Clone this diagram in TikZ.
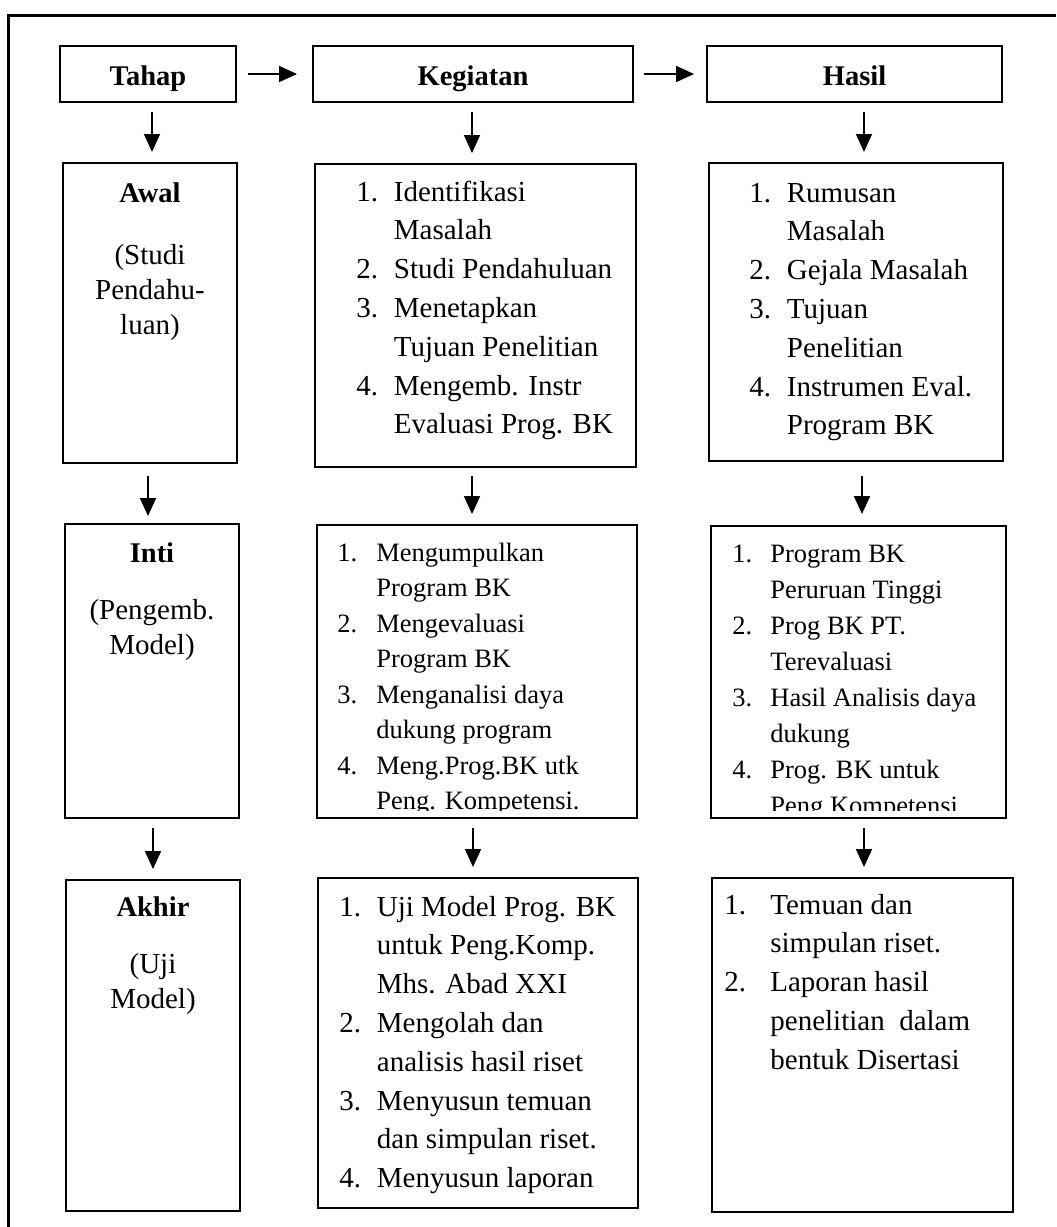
\documentclass[tikz,border=0pt]{standalone}
\usepackage{fontspec}
\setmainfont{Liberation Serif}
\usetikzlibrary{calc,arrows.meta}
\newcommand{\butir}[2][18.75pt]{\makebox[#1][l]{#2}}
\newcommand{\lanjut}[1][18.75pt]{\hspace*{#1}}
\newcommand{\daftar}[1]{\begin{tabular}[t]{@{}l@{}}#1\end{tabular}}
\newcommand{\tengah}[1]{\begin{tabular}[t]{@{}c@{}}#1\end{tabular}}
\tikzset{
  kotak/.style={draw, line width=1pt, inner sep=0pt},
  judul/.style={font=\fontsize{14.25}{17}\selectfont\bfseries},
  kepala/.style={kotak, judul, minimum height=28pt, text height=11pt, text depth=0pt},
  isi/.style={inner sep=0pt, anchor=base west, font=\fontsize{14.5}{19.4}\selectfont},
  isikecil/.style={inner sep=0pt, anchor=base west, font=\fontsize{13.25}{17.75}\selectfont},
  ket/.style={inner sep=0pt, anchor=base, font=\fontsize{14.5}{17.5}\selectfont},
  panah/.style={-{Triangle[length=9pt,width=8pt]}, line width=0.9pt},
}
\begin{document}
\begin{tikzpicture}[x=0.5pt, y=-0.5pt]
\useasboundingbox (0,0) rectangle (1056,1227);
% bingkai luar
\draw[line width=1.5pt] (8,1227) -- (8,15) -- (1056,15);
% baris judul
\node[kepala, minimum width=88pt] (tahap) at (148,74) {Tahap};
\node[kepala, minimum width=160pt] (kegiatan) at (473,74) {Kegiatan};
\node[kepala, minimum width=147.5pt] (hasil) at (854.5,74) {Hasil};
% tahap awal
\node[kotak, minimum width=87pt, minimum height=150pt] (awal) at (150,313) {};
\node[kotak, minimum width=160.5pt, minimum height=151.5pt] (keg1) at (475.5,315.5) {};
\node[kotak, minimum width=147pt, minimum height=149pt] (has1) at (856,312) {};
% tahap inti
\node[kotak, minimum width=87pt, minimum height=147pt] (inti) at (152,671) {};
\node[kotak, minimum width=160pt, minimum height=146.5pt] (keg2) at (477,671.5) {};
\node[kotak, minimum width=147.5pt, minimum height=146pt] (has2) at (858.5,672) {};
% tahap akhir
\node[kotak, minimum width=87pt, minimum height=165.5pt] (akhir) at (153,1045.5) {};
\node[kotak, minimum width=160pt, minimum height=165pt] (keg3) at (478,1043) {};
\node[kotak, minimum width=150.5pt, minimum height=167pt] (has3) at (862.5,1045) {};

% kolom tahap
\node[judul, anchor=base, inner sep=0pt] (awalj) at ($(awal.north)+(0,40)$) {Awal};
\node[ket] (awalk) at ($(awal.north)+(0,102)$) {\tengah{(Studi\\Pendahu-\\luan)}};
\node[judul, anchor=base, inner sep=0pt] (intij) at ($(inti.north)+(0,39)$) {Inti};
\node[ket] (intik) at ($(inti.north)+(0,96)$) {\tengah{(Pengemb.\\Model)}};
\node[judul, anchor=base, inner sep=0pt] (akhirj) at ($(akhir.north)+(0,37)$) {Akhir};
\node[ket] (akhirk) at ($(akhir.north)+(0,94)$) {\tengah{(Uji\\Model)}};

% isi kegiatan dan hasil
\node[isi] (keg1t) at ($(keg1.north west)+(42,38)$) {\daftar{\butir{1.}Identifikasi\\ \lanjut Masalah\\ \butir{2.}Studi Pendahuluan\\ \butir{3.}Menetapkan\\ \lanjut Tujuan Penelitian\\ \butir{4.}Mengemb. Instr\\ \lanjut Evaluasi Prog. BK}};
\node[isi] (has1t) at ($(has1.north west)+(41,40)$) {\daftar{\butir{1.}Rumusan\\ \lanjut Masalah\\ \butir{2.}Gejala Masalah\\ \butir{3.}Tujuan\\ \lanjut Penelitian\\ \butir{4.}Instrumen Eval.\\ \lanjut Program BK}};
\begin{scope}
\clip (keg2.north west) rectangle ($(keg2.south east)+(0,-9)$);
\node[isikecil] (keg2t) at ($(keg2.north west)+(21,37)$) {\daftar{\butir[19.5pt]{1.}Mengumpulkan\\ \lanjut[19.5pt]Program BK\\ \butir[19.5pt]{2.}Mengevaluasi\\ \lanjut[19.5pt]Program BK\\ \butir[19.5pt]{3.}Menganalisi daya\\ \lanjut[19.5pt]dukung program\\ \butir[19.5pt]{4.}Meng.Prog.BK utk\\ \lanjut[19.5pt]Peng. Kompetensi.}};
\end{scope}
\begin{scope}
\clip (has2.north west) rectangle ($(has2.south east)+(0,-9)$);
\node[isikecil, font=\fontsize{13.25}{18}\selectfont] (has2t) at ($(has2.north west)+(22,37)$) {\daftar{\butir[19pt]{1.}Program BK\\ \lanjut[19pt]Peruruan Tinggi\\ \butir[19pt]{2.}Prog BK PT.\\ \lanjut[19pt]Terevaluasi\\ \butir[19pt]{3.}Hasil Analisis daya\\ \lanjut[19pt]dukung\\ \butir[19pt]{4.}Prog. BK untuk\\ \lanjut[19pt]Peng.Kompetensi}};
\end{scope}
\node[isi] (keg3t) at ($(keg3.north west)+(22,39)$) {\daftar{\butir{1.}Uji Model Prog. BK\\ \lanjut untuk Peng.Komp.\\ \lanjut Mhs. Abad XXI\\ \butir{2.}Mengolah dan\\ \lanjut analisis hasil riset\\ \butir{3.}Menyusun temuan\\ \lanjut dan simpulan riset.\\ \butir{4.}Menyusun laporan}};
\node[isi] (has3t) at ($(has3.north west)+(13,37)$) {\daftar{\butir[23pt]{1.}Temuan dan\\ \lanjut[23pt]simpulan riset.\\ \butir[23pt]{2.}Laporan hasil\\ \lanjut[23pt]penelitian~ dalam\\ \lanjut[23pt]bentuk Disertasi}};

% panah mendatar
\draw[panah, shorten <=5.5pt, shorten >=7.5pt] (tahap) -- (kegiatan);
\draw[panah, shorten <=5pt, shorten >=6pt] (kegiatan) -- (hasil);
% panah menurun
\draw[panah, shorten <=4.5pt, shorten >=5pt] ($(tahap.south)+(4,0)$) -- ($(tahap.south |- awal.north)+(4,0)$);
\draw[panah, shorten <=4.5pt, shorten >=5pt] ($(kegiatan.south)+(-1,0)$) -- ($(kegiatan.south |- keg1.north)+(-1,0)$);
\draw[panah, shorten <=4.5pt, shorten >=5pt] ($(hasil.south)+(9.5,0)$) -- ($(hasil.south |- has1.north)+(9.5,0)$);
\draw[panah, shorten <=6pt, shorten >=3.5pt] ($(awal.south)+(-2,0)$) -- ($(awal.south |- inti.north)+(-2,0)$);
\draw[panah, shorten <=4pt, shorten >=5pt] ($(keg1.south)+(-3.5,0)$) -- ($(keg1.south |- keg2.north)+(-3.5,0)$);
\draw[panah, shorten <=7pt, shorten >=5.5pt] ($(has1.south)+(6,0)$) -- ($(has1.south |- has2.north)+(6,0)$);
\draw[panah, shorten <=4.5pt, shorten >=5pt] ($(inti.south)+(1,0)$) -- ($(inti.south |- akhir.north)+(1,0)$);
\draw[panah, shorten <=4.5pt, shorten >=5pt] ($(keg2.south)+(-4,0)$) -- ($(keg2.south |- keg3.north)+(-4,0)$);
\draw[panah, shorten <=4.5pt, shorten >=5pt] ($(has2.south)+(5.5,0)$) -- ($(has2.south |- has3.north)+(5.5,0)$);
\end{tikzpicture}
\end{document}
